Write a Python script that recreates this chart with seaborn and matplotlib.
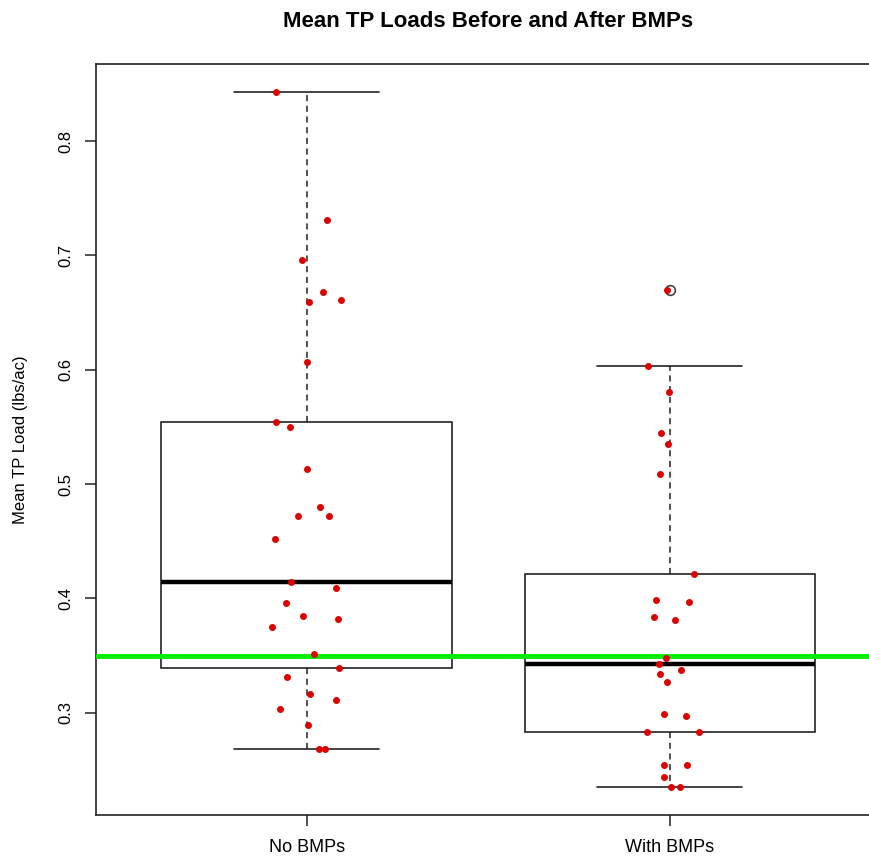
import matplotlib

matplotlib.use("Agg")
import matplotlib.pyplot as plt  # noqa: E402
import numpy as np               # noqa: E402
import pandas as pd              # noqa: E402
import seaborn as sns            # noqa: E402

# values (lbs/ac)
GROUPS = ["No BMPs", "With BMPs"]
NO_BMPS = [0.843, 0.731, 0.696, 0.668, 0.661, 0.659, 0.607, 0.554, 0.550,
           0.513, 0.480, 0.472, 0.472, 0.452, 0.414, 0.409, 0.396, 0.385,
           0.382, 0.375, 0.351, 0.339, 0.331, 0.316, 0.311, 0.303, 0.289,
           0.2685, 0.2685]
WITH_BMPS = [0.670, 0.603, 0.581, 0.545, 0.535, 0.509, 0.421, 0.397, 0.399,
             0.381, 0.384, 0.348, 0.3426, 0.337, 0.334, 0.327, 0.297, 0.299,
             0.283, 0.283, 0.2545, 0.2545, 0.2435, 0.2353, 0.2353]
TARGET = 0.35

df = pd.DataFrame({
    "group": [GROUPS[0]] * len(NO_BMPS) + [GROUPS[1]] * len(WITH_BMPS),
    "load": NO_BMPS + WITH_BMPS,
})

sns.set_style("ticks")
plt.rcParams["font.family"] = ["Liberation Sans", "DejaVu Sans"]
plt.rcParams.update({"text.color": "black", "axes.labelcolor": "black",
                     "xtick.color": "#222222", "ytick.color": "#222222",
                     "xtick.labelcolor": "black", "ytick.labelcolor": "black"})

fig = plt.figure(figsize=(8.69, 8.58), dpi=100)
ax = fig.add_axes([0.1105, 0.0501, 0.9027, 0.8753])

sns.boxplot(data=df, x="group", y="load", order=GROUPS, ax=ax,
            width=0.8, color="white", linecolor="#222222", linewidth=1.2,
            medianprops=dict(color="black", linewidth=3.2),
            whiskerprops=dict(linestyle=(0, (4, 3)), linewidth=1.1),
            capprops=dict(linewidth=1.2),
            flierprops=dict(marker="o", markerfacecolor="none",
                            markeredgecolor="#444444", markersize=7,
                            markeredgewidth=1.2))

ax.axhline(TARGET, color="#00ee00", linewidth=3.5, zorder=3)

np.random.seed(7)
sns.stripplot(data=df, x="group", y="load", order=GROUPS, ax=ax,
              jitter=0.1, color="#dd0000", size=5, linewidth=0, zorder=4)

ax.set_xlim(-0.58, 1.58)
ax.set_ylim(0.2105, 0.8675)
ax.set_yticks([0.3, 0.4, 0.5, 0.6, 0.7, 0.8])
ax.set_yticklabels(["0.3", "0.4", "0.5", "0.6", "0.7", "0.8"],
                   rotation=90, va="center")

for side in ["top", "right", "left", "bottom"]:
    ax.spines[side].set_visible(True)
    ax.spines[side].set_color("#222222")
    ax.spines[side].set_linewidth(1.2)

ax.tick_params(axis="both", length=8, width=1.1)
ax.tick_params(axis="y", labelsize=12, pad=8)
ax.tick_params(axis="x", labelsize=13, pad=9)

ax.set_xlabel("")
ax.set_ylabel("Mean TP Load (lbs/ac)", fontsize=12)
ax.yaxis.set_label_coords(-0.087, 0.5)
ax.set_title("Mean TP Loads Before and After BMPs", fontsize=16,
             fontweight="bold", pad=27)

fig.savefig("out.png", dpi=100)
